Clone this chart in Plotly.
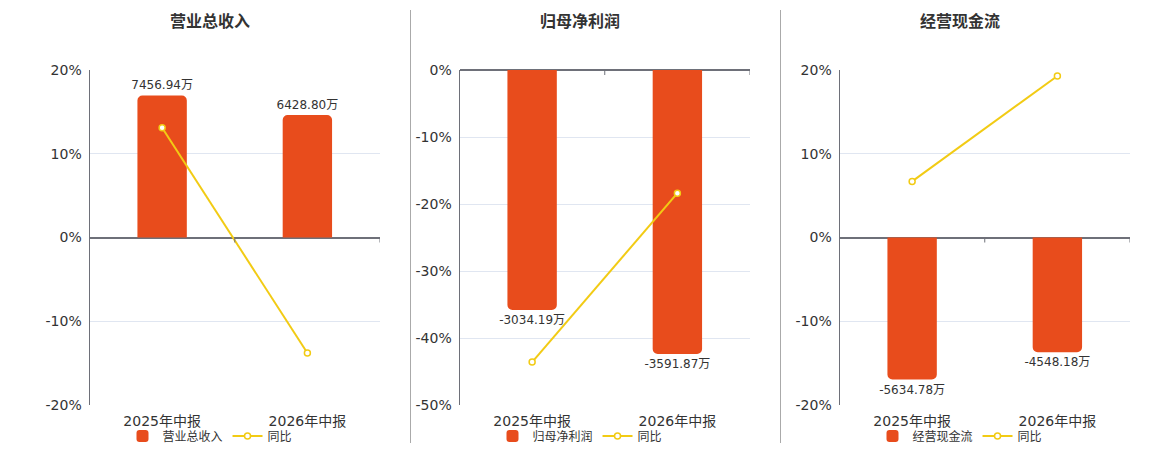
import plotly.graph_objects as go

categories = ["2025年中报", "2026年中报"]
titles = ["营业总收入", "归母净利润", "经营现金流"]
bar_values = [
    [7456.94, 6428.80],
    [-3034.19, -3591.87],
    [-5634.78, -4548.18],
]
yoy_values = [
    [13.1, -13.79],
    [-43.6, -18.38],
    [6.7, 19.28],
]
pct_ranges = [[-20, 20], [-50, 0], [-20, 20]]
pct_ticks = [[-20, -10, 0, 10, 20], [-50, -40, -30, -20, -10, 0], [-20, -10, 0, 10, 20]]

BAR_COLOR = "#E84C1C"
LINE_COLOR = "#F2CB14"
TEXT = "#333333"
GRID = "#E0E6F1"
AXIS = "#6E7079"
FONT = "DejaVu Sans, Noto Sans CJK SC, sans-serif"

W, H = 1160, 450
plot_left = [89.5, 459.5, 839.5]
plot_right = [380, 750, 1130]
plot_top, plot_bottom = 70, 405
centers = [210, 580, 960]

fig = go.Figure()
layout = dict(
    width=W, height=H, margin=dict(l=0, r=0, t=0, b=0, autoexpand=False),
    paper_bgcolor="white", plot_bgcolor="white",
    font=dict(family=FONT, color=TEXT, size=12),
    barcornerradius=5, showlegend=True,
)
annotations = []
shapes = []

for i in range(3):
    xa = "x" if i == 0 else f"x{i+1}"
    ya_bar = "y" if i == 0 else f"y{2*i+1}"
    ya_pct = f"y{2*i+2}"
    legend_name = "legend" if i == 0 else f"legend{i+1}"
    lo, hi = pct_ranges[i]
    maxabs = max(abs(v) for v in bar_values[i])
    extent = hi if max(bar_values[i]) > 0 else -lo
    s = maxabs / (0.848 * extent)
    dom_x = [plot_left[i] / W, plot_right[i] / W]
    dom_y = [1 - plot_bottom / H, 1 - plot_top / H]

    fig.add_trace(go.Bar(
        x=categories, y=bar_values[i], name=titles[i],
        marker=dict(color=BAR_COLOR, line=dict(width=0)),
        width=0.34,
        text=[f"{v:.2f}万" for v in bar_values[i]],
        textposition="outside", cliponaxis=False, constraintext="none",
        textfont=dict(size=12, color=TEXT, family=FONT),
        xaxis=xa, yaxis=ya_bar, legend=legend_name,
    ))
    fig.add_trace(go.Scatter(
        x=categories, y=yoy_values[i], name="同比", mode="lines+markers",
        line=dict(color=LINE_COLOR, width=2),
        marker=dict(symbol="circle", size=6, color="white",
                    line=dict(color=LINE_COLOR, width=1.5)),
        xaxis=xa, yaxis=ya_pct, legend=legend_name,
    ))

    xkey = "xaxis" if i == 0 else f"xaxis{i+1}"
    ykey_bar = "yaxis" if i == 0 else f"yaxis{2*i+1}"
    ykey_pct = f"yaxis{2*i+2}"
    layout[xkey] = dict(
        domain=dom_x, anchor=ya_bar, type="category", range=[-0.5, 1.5],
        showline=False, showgrid=False, ticks="", automargin=False,
        ticklabelstandoff=6,
        tickfont=dict(size=14, color=TEXT, family=FONT),
    )
    layout[ykey_bar] = dict(
        domain=dom_y, anchor=xa, range=[lo * s, hi * s],
        tickvals=[t * s for t in pct_ticks[i]],
        ticktext=[f"{t}%" for t in pct_ticks[i]],
        showgrid=True, gridcolor=GRID, gridwidth=1,
        zeroline=True, zerolinecolor=AXIS, zerolinewidth=2,
        showline=True, linecolor=AXIS, linewidth=1,
        ticks="", ticklabelstandoff=4, automargin=False,
        tickfont=dict(size=14, color=TEXT, family=FONT),
    )
    layout[ykey_pct] = dict(
        domain=dom_y, anchor=xa, overlaying=ya_bar, side="right",
        range=[lo, hi], visible=False, showgrid=False, zeroline=False,
        automargin=False,
    )
    layout[legend_name] = dict(
        orientation="h", x=centers[i] / W, xanchor="center",
        y=1 - 436 / H, yanchor="middle",
        font=dict(size=12, color=TEXT, family=FONT),
        bgcolor="rgba(0,0,0,0)", itemwidth=30, tracegroupgap=0,
    )
    annotations.append(dict(
        text=f"<b>{titles[i]}</b>", x=centers[i] / W, y=1 - 22 / H,
        xref="paper", yref="paper", xanchor="center", yanchor="middle",
        showarrow=False, font=dict(size=16, color=TEXT, family=FONT),
    ))
    for b in [0.5, 1.5]:
        shapes.append(dict(
            type="line", xref=xa, yref=f"{ya_bar} domain",
            x0=b, x1=b,
            y0=(0 - lo) / (hi - lo), y1=(0 - lo) / (hi - lo) - 5 / (plot_bottom - plot_top),
            line=dict(color=AXIS, width=1),
        ))

for xs in [410.5, 780.5]:
    shapes.append(dict(
        type="line", xref="paper", yref="paper",
        x0=xs / W, x1=xs / W, y0=1 - 443 / H, y1=1 - 10 / H,
        line=dict(color="#AAAAAA", width=1),
    ))

layout["annotations"] = annotations
layout["shapes"] = shapes
fig.update_layout(**layout)
fig.write_html("out.html", config={"displayModeBar": False})

with open("out.html", "r", encoding="utf-8") as f:
    html = f.read()
html = html.replace("<head>", "<head><style>html,body{margin:0;padding:0;overflow:hidden;}</style>", 1)
with open("out.html", "w", encoding="utf-8") as f:
    f.write(html)
